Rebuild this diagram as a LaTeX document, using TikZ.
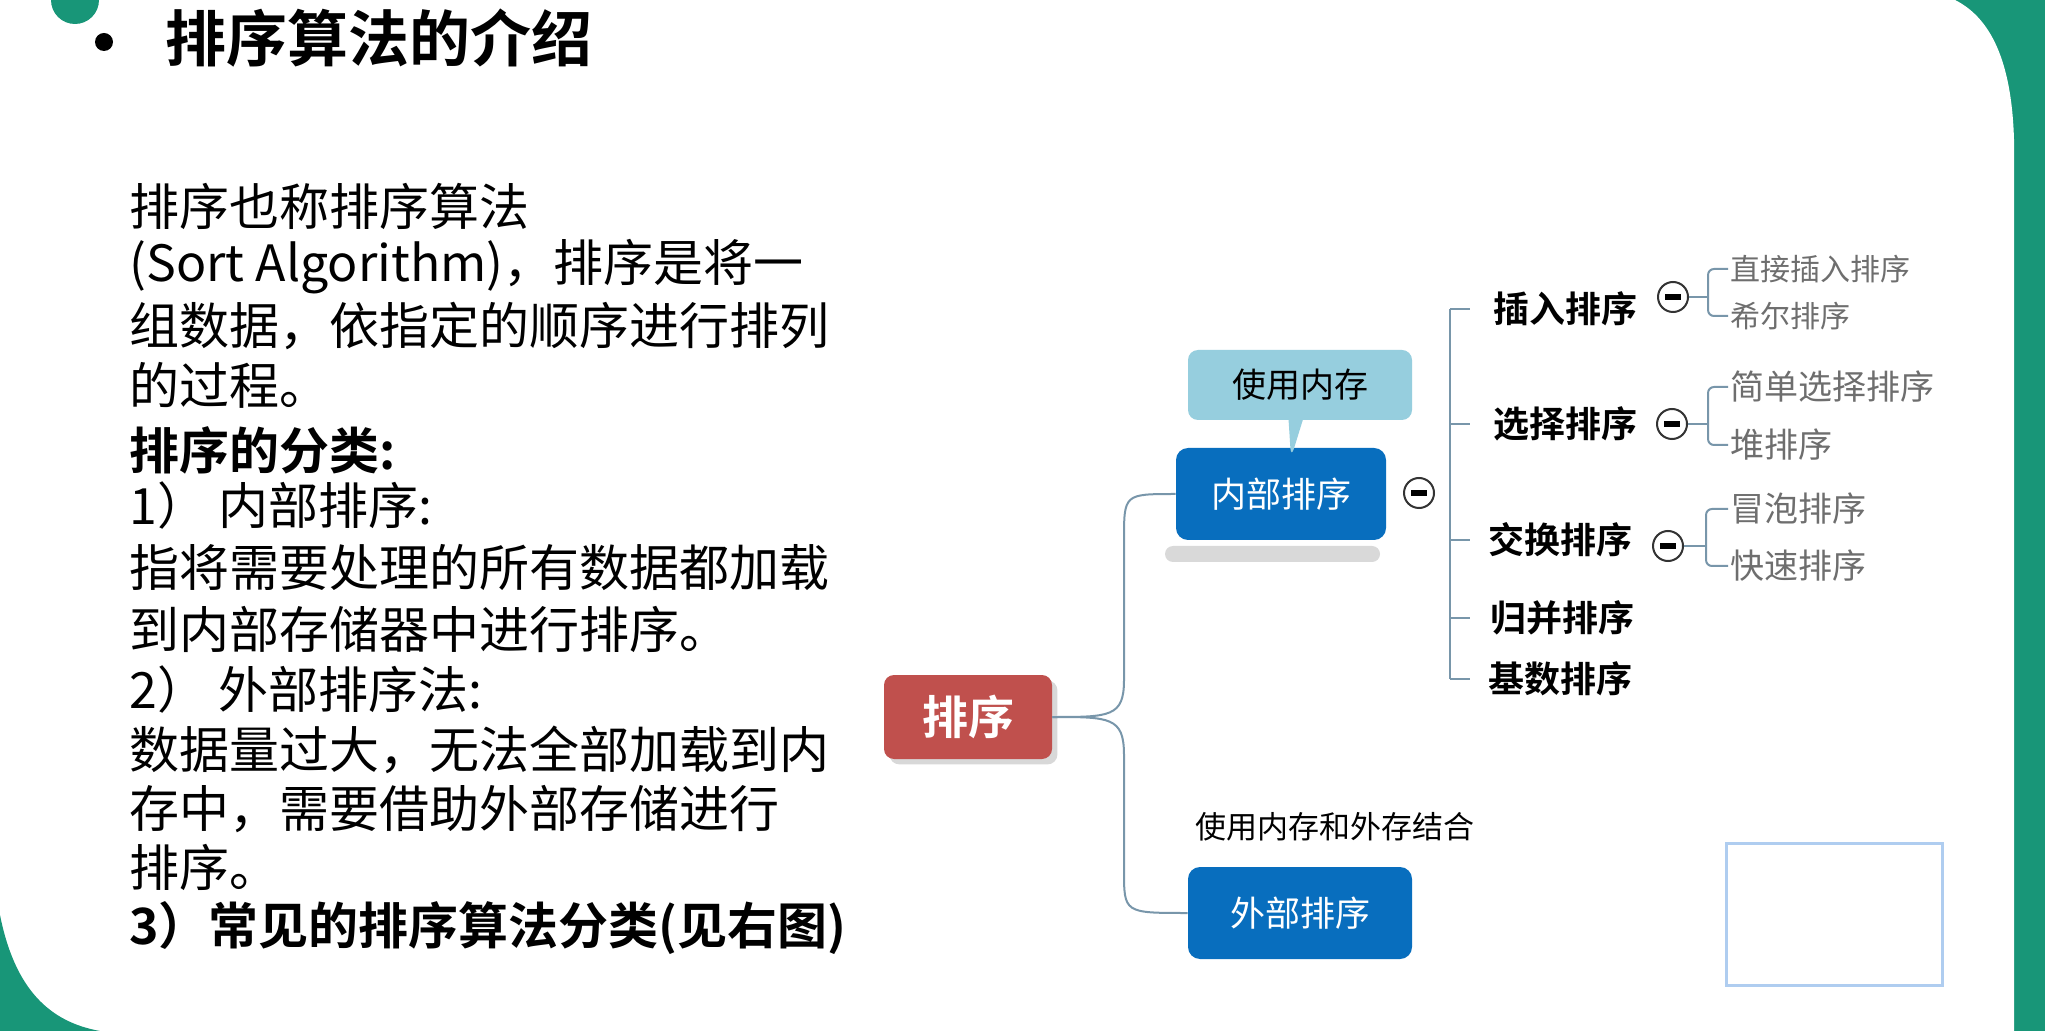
\documentclass[tikz,border=0pt]{standalone}
\usepackage{fontspec}
\setmainfont{Noto Sans CJK SC}[BoldFont={Noto Sans CJK SC Bold}]
\usetikzlibrary{shapes.callouts,shadows}
\definecolor{bgteal}{RGB}{24,150,120}
\definecolor{boxblue}{RGB}{8,110,190}
\definecolor{boxred}{RGB}{192,80,77}
\definecolor{calloutblue}{RGB}{150,206,222}
\definecolor{linkc}{RGB}{120,150,170}
\definecolor{leafgrey}{RGB}{110,110,110}
\definecolor{frameblue}{RGB}{175,205,240}
\tikzset{
  body/.style={anchor=west,inner sep=0pt,font=\fontsize{25pt}{30pt}\selectfont},
  bodyb/.style={body,font=\fontsize{25pt}{30pt}\selectfont\bfseries},
  bluebox/.style={fill=boxblue,rounded corners=6pt,text=white,minimum width=105pt,minimum height=46pt,font=\fontsize{17.5pt}{20pt}\selectfont},
  child/.style={font=\fontsize{18pt}{20pt}\selectfont\bfseries,inner sep=1pt},
  leaf/.style={anchor=west,text=leafgrey,font=\fontsize{15pt}{18pt}\selectfont,inner sep=1pt},
  leafbig/.style={leaf,font=\fontsize{17pt}{19pt}\selectfont},
  minus/.style={circle,draw=black!80,line width=1pt,fill=white,minimum size=15pt,inner sep=0pt,
    path picture={\fill[black] ([xshift=-4pt,yshift=-1.3pt]path picture bounding box.center) rectangle ([xshift=4pt,yshift=1.3pt]path picture bounding box.center);}},
  link/.style={draw=linkc,line width=1pt},
}
\begin{document}
\begin{tikzpicture}[x=0.5pt,y=-0.5pt]
\useasboundingbox (0,0) rectangle (2045,1031);
\fill[bgteal] (0,0) rectangle (2045,1031);
\fill[white] (0,0) -- (1955,0) .. controls (1995,20) and (2012,70) .. (2014,140) -- (2014,1031) -- (0,1031) -- cycle;
\fill[bgteal] (0,1031) -- (0,915) .. controls (15,990) and (50,1022) .. (100,1031) -- cycle;
\fill[bgteal] (75,0) circle (24);
% title
\fill[black] (104,42) circle (9);
\node[anchor=west,inner sep=0pt,font=\fontsize{30.5pt}{34pt}\selectfont\bfseries] (title) at (165,38) {排序算法的介绍};
% body
\node[body] (l1) at (129,206) {排序也称排序算法};
\node[body] (l2) at (129,267) {(Sort Algorithm)，排序是将一};
\node[body] (l3) at (129,326) {组数据，依指定的顺序进行排列};
\node[body] (l4) at (129,385) {的过程。};
\node[bodyb] (l5) at (129,450) {排序的分类:};
\node[body] (l6) at (129,506) {1） 内部排序:};
\node[body] (l7) at (129,567) {指将需要处理的所有数据都加载};
\node[body] (l8) at (129,629) {到内部存储器中进行排序。};
\node[body] (l9) at (129,689) {2） 外部排序法:};
\node[body] (l10) at (129,750) {数据量过大，无法全部加载到内};
\node[body] (l11) at (129,809) {存中，需要借助外部存储进行};
\node[body] (l12) at (129,867) {排序。};
\node[bodyb] (l13) at (129,928) {3）常见的排序算法分类(见右图)};
% mind map
\fill[black!15,rounded corners=4pt] (1165,546) rectangle (1380,562);
\node[fill=boxred,rounded corners=5pt,text=white,minimum width=84pt,minimum height=42pt,font=\fontsize{23pt}{26pt}\selectfont\bfseries,drop shadow={opacity=0.3}] (root) at (968,717) {排序};
\node[bluebox] (inner) at (1281,494) {内部排序};
\node[bluebox,minimum width=112pt] (outer) at (1300,913) {外部排序};
\node[rectangle callout,fill=calloutblue,rounded corners=5pt,minimum width=112pt,minimum height=35pt,font=\fontsize{17pt}{19pt}\selectfont,callout absolute pointer={(1291,458)}] (note) at (1300,385) {使用内存};
\node[anchor=west,inner sep=0pt,font=\fontsize{15.5pt}{18pt}\selectfont] (note2) at (1195,827) {使用内存和外存结合};
\coordinate (tt) at (1124,540);
\coordinate (tb) at (1124,870);
\draw[link] (root.east) .. controls (1110,717) and (1124,717) .. (1124,680) -- (tt) .. controls (1124,494) .. (inner.west);
\draw[link] (root.east) .. controls (1110,717) and (1124,717) .. (1124,755) -- (tb) .. controls (1124,913) .. (outer.west);
\node[minus] (m0) at (1419,493) {};
\node[child] (c1) at (1565,309) {插入排序};
\node[child] (c2) at (1565,424) {选择排序};
\node[child] (c3) at (1560,540) {交换排序};
\node[child] (c4) at (1562,618) {归并排序};
\node[child] (c5) at (1560,679) {基数排序};
\coordinate (bt) at (1450,309);
\coordinate (bb) at (1450,679);
\draw[link] (bt) -- (bb);
\foreach \c in {c1,c2,c3,c4,c5} \draw[link] (1450,0 |- \c.west) -- +(20,0);
\node[minus] (m1) at (1673,297) {};
\node[minus] (m2) at (1672,424) {};
\node[minus] (m3) at (1668,546) {};
\node[leaf] (g1) at (1728,269) {直接插入排序};
\node[leaf] (g2) at (1728,316) {希尔排序};
\node[leafbig] (g3) at (1728,387) {简单选择排序};
\node[leafbig] (g4) at (1728,445) {堆排序};
\node[leafbig] (g5) at (1728,509) {冒泡排序};
\node[leafbig] (g6) at (1728,566) {快速排序};
\draw[link] (m1.east) -- (1708,297);
\draw[link,rounded corners=3pt] (g1.west) -| (1708,297) |- (g2.west);
\draw[link] (m2.east) -- (1708,424);
\draw[link,rounded corners=3pt] (g3.west) -| (1708,424) |- (g4.west);
\draw[link] (m3.east) -- (1706,546);
\draw[link,rounded corners=3pt] (g5.west) -| (1706,546) |- (g6.west);
% empty framed box
\node[draw=frameblue,line width=1.5pt,fill=white,minimum width=108pt,minimum height=71pt] (blank) at (1834,914) {};
\end{tikzpicture}
\end{document}
